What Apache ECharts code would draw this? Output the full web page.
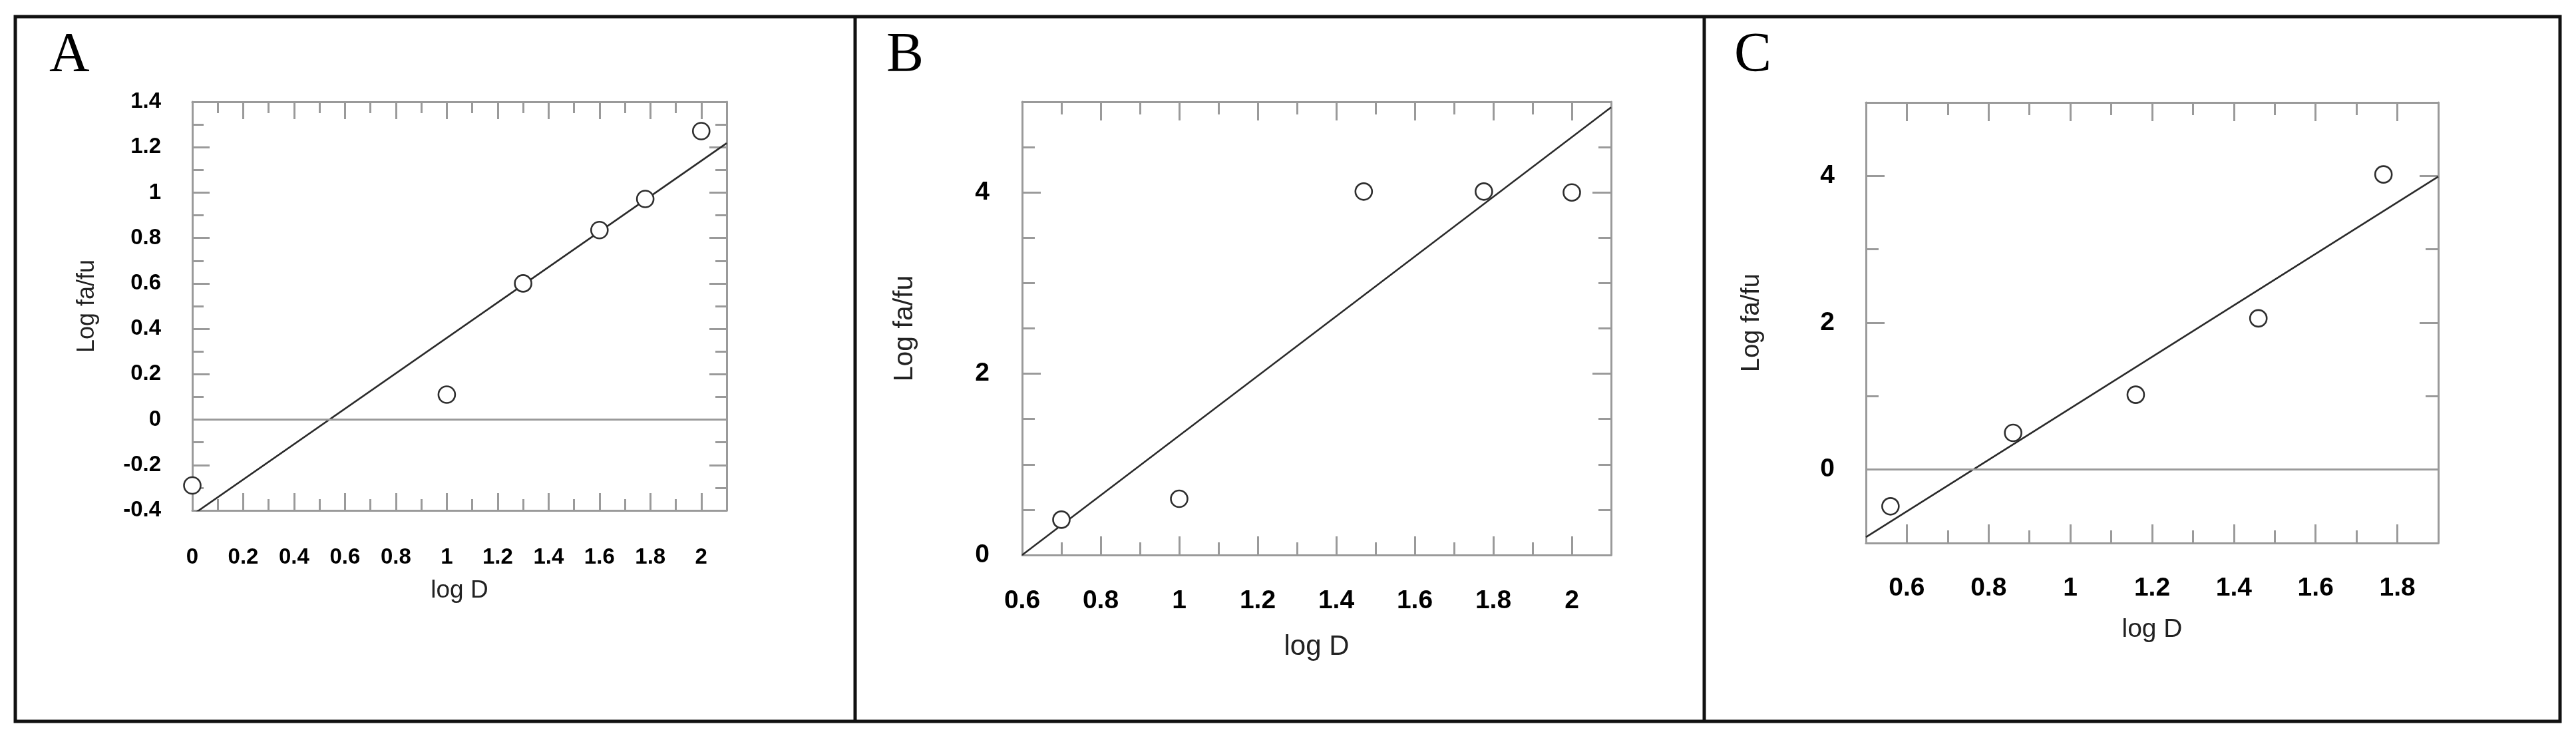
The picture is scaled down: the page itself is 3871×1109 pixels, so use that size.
<!DOCTYPE html>
<html><head><meta charset="utf-8">
<script src="https://cdn.jsdelivr.net/npm/echarts@6/dist/echarts.min.js"></script>
<style>html,body{margin:0;padding:0;background:#fff}#c{width:3871px;height:1109px}</style>
</head><body><div id="c"></div>
<script>
// ---------- Panel A ----------
const xA = [0, 1, 1.3, 1.6, 1.78, 2];
const yA = [-0.29, 0.11, 0.6, 0.835, 0.972, 1.271];
const fitXA = [0, 2.1];
const fitYA = [-0.42, 1.218];
const xRangeA = [0, 2.1];
const yRangeA = [-0.4, 1.4];
const xTicksA = [0, 0.2, 0.4, 0.6, 0.8, 1, 1.2, 1.4, 1.6, 1.8, 2];
const yTicksA = [-0.4, -0.2, 0, 0.2, 0.4, 0.6, 0.8, 1, 1.2, 1.4];
// ---------- Panel B ----------
const xB = [0.7, 1.0, 1.47, 1.776, 2.0];
const yB = [0.39, 0.62, 4.01, 4.01, 4.0];
const fitXB = [0.6, 2.1];
const fitYB = [0, 4.94];
const xRangeB = [0.6, 2.1];
const yRangeB = [0, 5];
const xTicksB = [0.6, 0.8, 1, 1.2, 1.4, 1.6, 1.8, 2];
const yTicksB = [0, 2, 4];
// ---------- Panel C ----------
const xC = [0.56, 0.86, 1.16, 1.46, 1.766];
const yC = [-0.5, 0.5, 1.02, 2.06, 4.02];
const fitXC = [0.5, 1.9];
const fitYC = [-0.92, 3.99];
const xRangeC = [0.5, 1.9];
const yRangeC = [-1, 5];
const xTicksC = [0.6, 0.8, 1, 1.2, 1.4, 1.6, 1.8];
const yTicksC = [0, 2, 4];

const panelLetters = ['A', 'B', 'C'];
const xName = 'log D';
const yName = 'Log fa/fu';

const GRAY = '#9a9a9a';
const panels = [
  { letter: panelLetters[0], x: xA, y: yA, fx: fitXA, fy: fitYA, xr: xRangeA, yr: yRangeA, xt: xTicksA, yt: yTicksA,
    xMinor: 0.1, yMinor: 0.1, zero: true,
    grid: { left: 289, top: 153, width: 803, height: 614 }, fs: 33, nfs: 37, xm: 54, ym: 47, xng: 102, yng: 140,
    majLen: 26, minLen: 17 },
  { letter: panelLetters[1], x: xB, y: yB, fx: fitXB, fy: fitYB, xr: xRangeB, yr: yRangeB, xt: xTicksB, yt: yTicksB,
    xMinor: 0.1, yMinor: 0.5, zero: false,
    grid: { left: 1536, top: 153, width: 885, height: 681 }, fs: 39, nfs: 42, xm: 50, ym: 49, xng: 117, yng: 156,
    majLen: 28, minLen: 19 },
  { letter: panelLetters[2], x: xC, y: yC, fx: fitXC, fy: fitYC, xr: xRangeC, yr: yRangeC, xt: xTicksC, yt: yTicksC,
    xMinor: 0.1, yMinor: 1, zero: true,
    grid: { left: 2804, top: 154, width: 860, height: 662 }, fs: 39, nfs: 39, xm: 49, ym: 47, xng: 111, yng: 152,
    majLen: 28, minLen: 19 }
];

const grids = [], xAxes = [], yAxes = [], series = [];
const lineStyle = { color: GRAY, width: 3 };

panels.forEach((p, gi) => {
  grids.push(Object.assign({ containLabel: false }, p.grid));
  const base = (r) => ({ gridIndex: gi, type: 'value', min: r[0], max: r[1], splitLine: { show: false } });
  const xMainIdx = xAxes.length;
  xAxes.push(Object.assign(base(p.xr), {
    position: 'bottom', name: xName, nameLocation: 'middle', nameGap: p.xng,
    nameTextStyle: { fontFamily: 'Liberation Sans', fontSize: p.nfs, color: '#222' },
    axisLine: { show: true, onZero: false, lineStyle },
    axisTick: { show: true, inside: true, length: p.majLen, customValues: p.xt, lineStyle },
    axisLabel: { show: true, customValues: p.xt, margin: p.xm, fontFamily: 'Liberation Sans', fontWeight: 'bold', fontSize: p.fs, color: '#000' }
  }));
  xAxes.push(Object.assign(base(p.xr), {
    position: 'bottom', interval: p.xMinor,
    axisLine: { show: false, onZero: false },
    axisTick: { show: true, inside: true, length: p.minLen, lineStyle }, axisLabel: { show: false }
  }));
  xAxes.push(Object.assign(base(p.xr), {
    position: 'top',
    axisLine: { show: true, onZero: false, lineStyle },
    axisTick: { show: true, inside: true, length: p.majLen, customValues: p.xt, lineStyle }, axisLabel: { show: false }
  }));
  xAxes.push(Object.assign(base(p.xr), {
    position: 'top', interval: p.xMinor,
    axisLine: { show: false, onZero: false },
    axisTick: { show: true, inside: true, length: p.minLen, lineStyle }, axisLabel: { show: false }
  }));
  const yMainIdx = yAxes.length;
  yAxes.push(Object.assign(base(p.yr), {
    position: 'left', name: yName, nameLocation: 'middle', nameGap: p.yng,
    nameTextStyle: { fontFamily: 'Liberation Sans', fontSize: p.nfs - 1, color: '#222' },
    axisLine: { show: true, onZero: false, lineStyle },
    axisTick: { show: true, inside: true, length: p.majLen, customValues: p.yt, lineStyle },
    axisLabel: { show: true, customValues: p.yt, margin: p.ym, fontFamily: 'Liberation Sans', fontWeight: 'bold', fontSize: p.fs, color: '#000' }
  }));
  yAxes.push(Object.assign(base(p.yr), {
    position: 'left', interval: p.yMinor,
    axisLine: { show: false, onZero: false },
    axisTick: { show: true, inside: true, length: p.minLen, lineStyle }, axisLabel: { show: false }
  }));
  yAxes.push(Object.assign(base(p.yr), {
    position: 'right',
    axisLine: { show: true, onZero: false, lineStyle },
    axisTick: { show: true, inside: true, length: p.majLen, customValues: p.yt, lineStyle }, axisLabel: { show: false }
  }));
  yAxes.push(Object.assign(base(p.yr), {
    position: 'right', interval: p.yMinor,
    axisLine: { show: false, onZero: false },
    axisTick: { show: true, inside: true, length: p.minLen, lineStyle }, axisLabel: { show: false }
  }));

  const fit = {
    type: 'line', xAxisIndex: xMainIdx, yAxisIndex: yMainIdx, clip: true,
    data: p.fx.map((v, i) => [v, p.fy[i]]),
    symbol: 'none', lineStyle: { color: '#2a2a2a', width: 2.6 }, z: 3, silent: true
  };
  if (p.zero) {
    fit.markLine = {
      silent: true, symbol: 'none', label: { show: false },
      lineStyle: { color: GRAY, width: 3, type: 'solid' },
      data: [{ yAxis: 0 }]
    };
  }
  series.push(fit);
  series.push({
    type: 'scatter', xAxisIndex: xMainIdx, yAxisIndex: yMainIdx,
    data: p.x.map((v, i) => [v, p.y[i]]),
    symbol: 'circle', symbolSize: 25,
    itemStyle: { color: '#fff', borderColor: '#2e2e2e', borderWidth: 2.6, opacity: 1 }, z: 5
  });
});

const letterX = [74, 1332, 2606];
const graphic = [
  { type: 'rect', shape: { x: 23, y: 25, width: 3824, height: 1059 }, style: { fill: null, stroke: '#111', lineWidth: 5 }, z: 100 },
  { type: 'line', shape: { x1: 1285, y1: 25, x2: 1285, y2: 1084 }, style: { stroke: '#111', lineWidth: 5 }, z: 100 },
  { type: 'line', shape: { x1: 2561, y1: 25, x2: 2561, y2: 1084 }, style: { stroke: '#111', lineWidth: 5 }, z: 100 }
];
panels.forEach((p, i) => {
  graphic.push({ type: 'text', x: letterX[i], y: 43, style: { text: p.letter, font: '84px "Liberation Serif"', fill: '#000', textAlign: 'left', textVerticalAlign: 'top' }, z: 100 });
});

const chart = echarts.init(document.getElementById('c'), null, { renderer: 'canvas' });
chart.setOption({
  animation: false,
  backgroundColor: '#fff',
  grid: grids, xAxis: xAxes, yAxis: yAxes, series, graphic
});
</script></body></html>
